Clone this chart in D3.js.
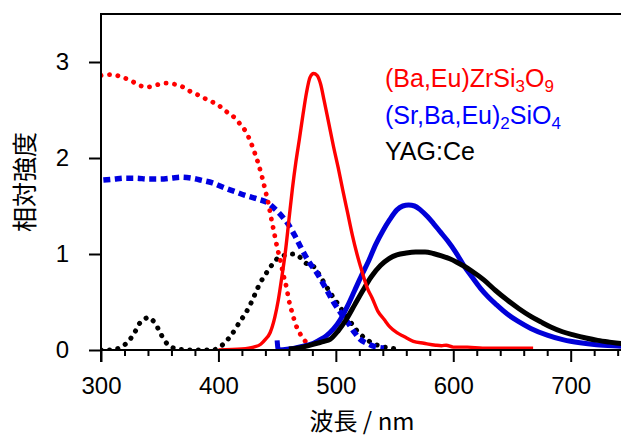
<!DOCTYPE html>
<html>
<head>
<meta charset="utf-8">
<script src="https://cdn.jsdelivr.net/npm/d3@7"></script>
<style>
  body { margin: 0; background: #fff; }
  svg text { font-family: "Liberation Sans", Arial, sans-serif; }
  .jp { font-family: "Noto Sans CJK JP", "Liberation Sans", sans-serif; }
  .axis path, .axis line { stroke: #000; stroke-width: 2; }
</style>
</head>
<body>
<svg id="chart" width="621" height="437"></svg>
<script>
// excitation spectra (dotted / dashed)
const exRedWl  = [300, 310, 318, 325, 332, 340, 347, 355, 362, 368, 375, 382, 390, 400, 406, 412, 418, 424, 428, 431, 434, 437, 440, 443, 445, 447.5, 450, 453, 455, 458, 460, 463, 466, 470, 474, 478];
const exRedVal = [2.86, 2.87, 2.84, 2.81, 2.76, 2.74, 2.76, 2.78, 2.77, 2.75, 2.70, 2.66, 2.61, 2.55, 2.49, 2.44, 2.36, 2.26, 2.15, 2.05, 1.94, 1.81, 1.66, 1.50, 1.37, 1.22, 1.07, 0.92, 0.80, 0.65, 0.52, 0.38, 0.26, 0.16, 0.09, 0.05];

const exBlueWl  = [302, 311, 320, 330, 340, 350, 360, 368, 377, 385, 395, 405, 414, 423, 434, 441, 448, 455, 460, 466, 471, 477, 484, 492, 498, 504, 510, 516, 520, 528, 535, 541];
const exBlueVal = [1.77, 1.78, 1.79, 1.79, 1.78, 1.78, 1.79, 1.80, 1.79, 1.77, 1.74, 1.69, 1.65, 1.61, 1.57, 1.54, 1.47, 1.38, 1.30, 1.17, 1.05, 0.92, 0.80, 0.63, 0.50, 0.39, 0.29, 0.18, 0.12, 0.06, 0.03, 0.02];

const exBlackWl  = [300, 309, 317, 324, 329, 333, 337, 340, 343, 346, 350, 354, 360, 366, 375, 385, 395, 401, 408, 414, 418, 423, 427, 430, 434, 438, 443, 447, 452, 458, 464, 468, 471, 476, 481, 485, 490, 495, 500, 505, 512, 518, 524, 530, 538, 546, 555];
const exBlackVal = [0.0, 0.0, 0.03, 0.10, 0.19, 0.28, 0.32, 0.34, 0.32, 0.28, 0.19, 0.10, 0.03, 0.01, 0.0, 0.0, 0.0, 0.03, 0.11, 0.21, 0.29, 0.38, 0.47, 0.55, 0.66, 0.75, 0.84, 0.91, 0.97, 0.99, 1.00, 0.98, 0.95, 0.89, 0.87, 0.80, 0.70, 0.60, 0.51, 0.42, 0.30, 0.20, 0.13, 0.08, 0.04, 0.02, 0.01];

// emission spectra (solid)
const emRedWl  = [400, 420, 430, 436, 440, 444, 448, 451, 454, 457, 460, 463, 466, 469, 472, 475, 478, 481, 484, 487, 490, 494, 498, 502, 506, 510, 514, 518, 522, 527, 531, 536, 541, 546, 552, 558, 566, 575, 585, 590, 594, 600, 612, 625, 640, 668];
const emRedVal = [0.0, 0.01, 0.03, 0.06, 0.11, 0.18, 0.34, 0.52, 0.76, 1.02, 1.35, 1.68, 1.96, 2.20, 2.45, 2.68, 2.84, 2.88, 2.86, 2.77, 2.60, 2.36, 2.12, 1.90, 1.66, 1.43, 1.20, 1.00, 0.83, 0.64, 0.54, 0.40, 0.32, 0.24, 0.18, 0.14, 0.09, 0.07, 0.05, 0.045, 0.05, 0.03, 0.03, 0.02, 0.02, 0.02];

const emBlueWl  = [450, 451, 460, 470, 481, 487, 492, 498, 504, 510, 516, 522, 528, 534, 540, 546, 552, 557, 562, 567, 572, 578, 583, 589, 595, 602, 609, 616, 623, 630, 637, 646, 655, 666, 680, 694, 708, 722, 743, 750];
const emBlueVal = [0.10, 0.0, 0.01, 0.035, 0.07, 0.11, 0.15, 0.22, 0.32, 0.46, 0.62, 0.78, 0.93, 1.10, 1.24, 1.36, 1.46, 1.50, 1.51, 1.50, 1.46, 1.39, 1.32, 1.23, 1.14, 1.02, 0.88, 0.76, 0.645, 0.55, 0.47, 0.375, 0.30, 0.225, 0.155, 0.105, 0.075, 0.055, 0.04, 0.035];

const emBlackWl  = [460, 470, 484, 490, 495, 502, 509, 516, 523, 530, 538, 545, 552, 560, 568, 576, 583, 590, 597, 603, 609, 616, 626, 636, 646, 656, 666, 675, 683, 693, 703, 713, 723, 733, 743, 750];
const emBlackVal = [0.01, 0.025, 0.07, 0.09, 0.11, 0.20, 0.32, 0.47, 0.62, 0.76, 0.88, 0.95, 0.99, 1.01, 1.02, 1.02, 1.005, 0.98, 0.95, 0.915, 0.875, 0.82, 0.73, 0.62, 0.52, 0.43, 0.35, 0.29, 0.24, 0.19, 0.155, 0.125, 0.10, 0.082, 0.067, 0.06];

const xMajorTicks = [300, 400, 500, 600, 700];
const yTicks = [0, 1, 2, 3];

const svg = d3.select("#chart");

const x = d3.scaleLinear().domain([300, 750]).range([101, 629.4]);
const y = d3.scaleLinear().domain([0, 3.5]).range([350, 14]);

svg.append("clipPath").attr("id", "plotClip")
  .append("rect")
    .attr("x", 101).attr("y", 14)
    .attr("width", 621 - 101).attr("height", 350 - 14);

const plot = svg.append("g").attr("clip-path", "url(#plotClip)");

function toPts(wl, vals) {
  return wl.map((w, i) => [w, vals[i]]);
}

const line = d3.line()
  .x(d => x(d[0]))
  .y(d => y(d[1]))
  .curve(d3.curveMonotoneX);

function draw(wl, vals, color, width, dash, cap) {
  plot.append("path")
    .datum(toPts(wl, vals))
    .attr("fill", "none")
    .attr("stroke", color)
    .attr("stroke-width", width)
    .attr("stroke-dasharray", dash)
    .attr("stroke-linecap", cap || "butt")
    .attr("stroke-linejoin", "round")
    .attr("d", line);
}

// excitation first, emission on top
draw(exBlackWl, exBlackVal, "#000", 5, "0.1,8.4", "round");
draw(exBlueWl, exBlueVal, "#0000e0", 5.5, "7,4.5", "butt");
draw(exRedWl, exRedVal, "#ff0000", 4.8, "0.1,8.4", "round");
draw(emBlueWl, emBlueVal, "#0000d8", 5, null);
draw(emBlackWl, emBlackVal, "#000", 5, null);
draw(emRedWl, emRedVal, "#ff0000", 3.4, null);

// axes
svg.append("g")
  .attr("class", "axis")
  .attr("transform", "translate(0,350)")
  .call(d3.axisBottom(x).tickValues(d3.range(320, 760, 20).filter(v => v % 100 != 0)).tickSize(6).tickFormat(""))
  .call(g => g.select(".domain").remove());

const xAxis = svg.append("g")
  .attr("class", "axis")
  .attr("transform", "translate(0,350)")
  .call(d3.axisBottom(x).tickValues(xMajorTicks).tickSize(12).tickSizeOuter(0).tickPadding(15).tickFormat(d3.format("d")));
xAxis.select(".domain").attr("d", "M101,0H621");
xAxis.selectAll("text").attr("font-size", 24).attr("fill", "#000")
  .style("font-family", "'Liberation Sans', Arial, sans-serif");

const yAxis = svg.append("g")
  .attr("class", "axis")
  .attr("transform", "translate(101,0)")
  .call(d3.axisLeft(y).tickValues(yTicks).tickSize(12).tickSizeOuter(0).tickPadding(20).tickFormat(d3.format("d")));
yAxis.select(".domain").attr("d", "M0,14V362");
yAxis.selectAll("text").attr("font-size", 24).attr("fill", "#000")
  .style("font-family", "'Liberation Sans', Arial, sans-serif");

// top frame
svg.append("line")
  .attr("x1", 100).attr("x2", 621).attr("y1", 14).attr("y2", 14)
  .attr("stroke", "#000").attr("stroke-width", 2);

// axis titles
svg.append("text")
  .attr("class", "jp")
  .attr("x", 362).attr("y", 430)
  .attr("text-anchor", "middle")
  .attr("font-size", 24)
  .text("波長 / nm");

svg.append("text")
  .attr("class", "jp")
  .attr("transform", "translate(34,182) rotate(-90)")
  .attr("text-anchor", "middle")
  .attr("font-size", 25)
  .text("相対強度");

// legend, built from pieces so the subscripts stay real text
const legendItems = [
  { color: "#ff0000", parts: [["(Ba,Eu)ZrSi", 0], ["3", 1], ["O", 0], ["9", 1]] },
  { color: "#0000ff", parts: [["(Sr,Ba,Eu)", 0], ["2", 1], ["SiO", 0], ["4", 1]] },
  { color: "#000000", parts: [["YAG:Ce", 0]] }
];

legendItems.forEach((item, i) => {
  const t = svg.append("text")
    .attr("x", 385).attr("y", 87 + i * 36.5)
    .attr("font-size", 25)
    .attr("fill", item.color);
  var sub = 0;
  item.parts.forEach(p => {
    const dy = p[1] - sub;
    t.append("tspan")
      .attr("dy", dy * 5)
      .attr("font-size", p[1] ? 17 : 25)
      .text(p[0]);
    sub = p[1];
  });
});
</script>
</body>
</html>
